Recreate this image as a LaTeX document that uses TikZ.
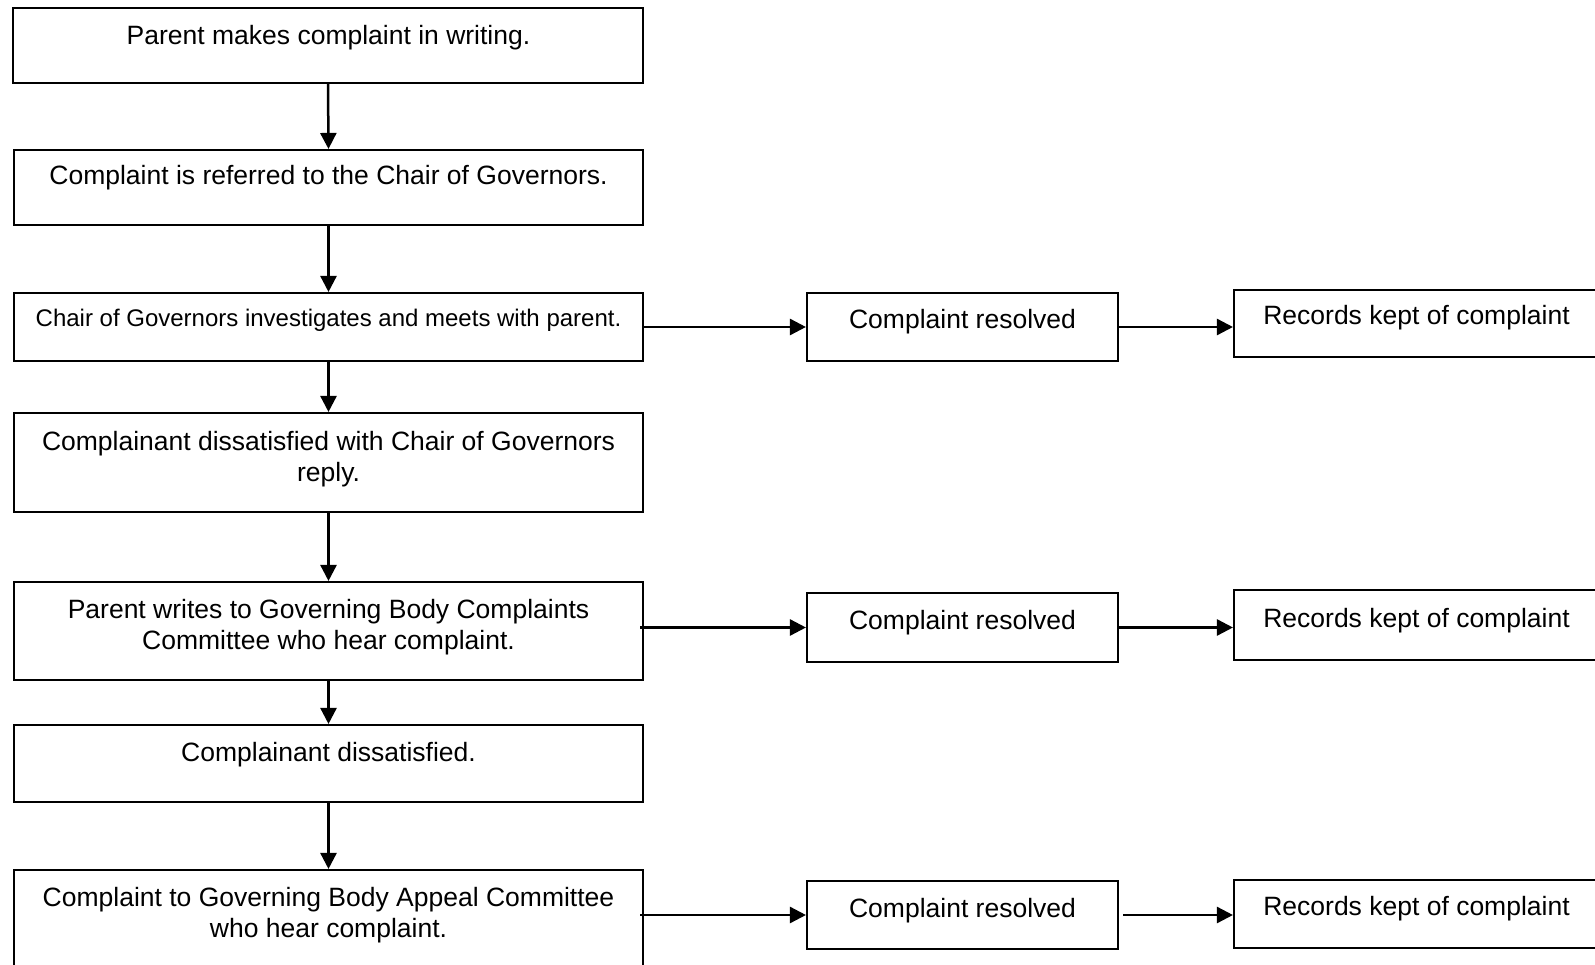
\documentclass[tikz,border=0pt]{standalone}
\usepackage{fontspec}
\setmainfont{Liberation Sans}
\usetikzlibrary{arrows.meta}
\tikzset{
  box/.style={draw, line width=2.1pt, inner sep=0pt, fill=white},
  txt/.style={inner sep=0pt, align=center, anchor=base, font=\fontsize{26.5}{30.5}\selectfont},
  smalltxt/.style={txt, font=\fontsize{24}{28}\selectfont},
  arr/.style={line width=2.5pt, -{Triangle[length=16pt,width=16pt]}}
}
\begin{document}
\begin{tikzpicture}[x=1pt,y=-1pt]
\clip (0,0) rectangle (1595,965);
\useasboundingbox (0,0) rectangle (1595,965);
% left column
\node[box, minimum width=630, minimum height=75] (b1) at (328,45.5) {};
\node[box, minimum width=629, minimum height=75] (b2) at (328.5,187.5) {};
\node[box, minimum width=629, minimum height=68] (b3) at (328.5,327) {};
\node[box, minimum width=629, minimum height=99] (b4) at (328.5,462.5) {};
\node[box, minimum width=629, minimum height=98] (b5) at (328.5,631) {};
\node[box, minimum width=629, minimum height=77] (b6) at (328.5,763.5) {};
\node[box, minimum width=629, minimum height=120] (b7) at (328.5,930) {};
% middle column
\node[box, minimum width=311, minimum height=68] (r1) at (962.5,327) {};
\node[box, minimum width=311, minimum height=69] (r2) at (962.5,627.5) {};
\node[box, minimum width=311, minimum height=68] (r3) at (962.5,915) {};
% right column
\node[box, minimum width=366, minimum height=67] (k1) at (1417,323.5) {};
\node[box, minimum width=366, minimum height=70] (k2) at (1417,625) {};
\node[box, minimum width=366, minimum height=68] (k3) at (1417,914) {};
% texts
\node[txt] (t1) at (328.5,44.7) {Parent makes complaint in writing.};
\node[txt] (t2) at (328.5,185) {Complaint is referred to the Chair of Governors.};
\node[smalltxt] (t3) at (328.5,327) {Chair of Governors investigates and meets with parent.};
\node[txt] (t4) at (328.5,481) {Complainant dissatisfied with Chair of Governors\\reply.};
\node[txt] (t5) at (328.5,649) {Parent writes to Governing Body Complaints\\Committee who hear complaint.};
\node[txt] (t6) at (328.5,761) {Complainant dissatisfied.};
\node[txt] (t7) at (328.5,937) {Complaint to Governing Body Appeal Committee\\who hear complaint.};
\node[txt] (s1) at (962.5,328.5) {Complaint resolved};
\node[txt] (s2) at (962.5,629.6) {Complaint resolved};
\node[txt] (s3) at (962.5,917.5) {Complaint resolved};
\node[txt] (u1) at (1416.5,324.5) {Records kept of complaint};
\node[txt] (u2) at (1416.5,627.6) {Records kept of complaint};
\node[txt] (u3) at (1416.5,915.5) {Records kept of complaint};
% vertical arrows
\draw[arr] (b1.south) -- (b2.north);
\draw[arr] (b2.south) -- (b3.north);
\draw[arr] (b3.south) -- (b4.north);
\draw[arr] (b4.south) -- (b5.north);
\draw[arr] (b5.south) -- (b6.north);
\draw[arr] (b6.south) -- (b7.north);
% horizontal arrows
\draw[arr] (b3.east |- r1.west) -- (r1.west);
\draw[arr] ([xshift=-4pt]b5.east |- r2.west) -- (r2.west);
\draw[arr] ([xshift=-4pt]b7.east |- r3.west) -- (r3.west);
\draw[arr] (r1.east) -- (k1.west |- r1.east);
\draw[arr] (r2.east) -- (k2.west |- r2.east);
\draw[arr] ([xshift=4pt]r3.east) -- (k3.west |- r3.east);
\end{tikzpicture}
\end{document}
